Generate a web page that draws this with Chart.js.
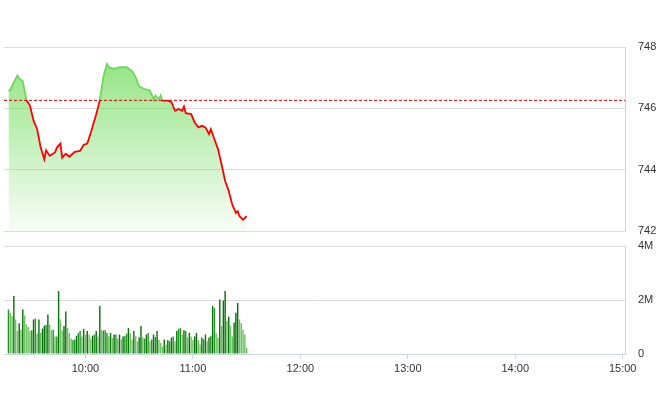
<!DOCTYPE html>
<html>
<head>
<meta charset="utf-8">
<script src="https://cdn.jsdelivr.net/npm/chart.js@4.4.1/dist/chart.umd.min.js"></script>
<style>
  body { margin: 0; background: #fff; }
  #wrap { position: relative; width: 660px; height: 412px; }
  .box { position: absolute; left: 0; width: 660px; }
</style>
</head>
<body>
<div id="wrap">
  <div class="box" style="top:0;height:240px"><canvas id="priceChart"></canvas></div>
  <div class="box" style="top:240px;height:172px"><canvas id="volumeChart"></canvas></div>
</div>
<script>
// intraday price
var priceTimes = ['9:17','9:18','9:20','9:22','9:23','9:25','9:27','9:29','9:31','9:33',
  '9:35','9:37','9:38','9:40','9:43','9:44','9:46','9:47','9:49','9:51',
  '9:54','9:57','9:59','10:01','10:03','10:06','10:08','10:10','10:12','10:13',
  '10:16','10:19','10:23','10:26','10:28','10:30','10:33','10:36','10:38','10:39',
  '10:41','10:42','10:43','10:46','10:48','10:50','10:52','10:54','10:55','10:56',
  '10:59','11:01','11:03','11:05','11:07','11:09','11:10','11:12','11:14','11:16',
  '11:18','11:20','11:22','11:24','11:25','11:26','11:28','11:30'];
var prices = [746.59,746.59,746.85,747.07,746.96,746.89,746.27,746.09,745.60,745.32,
  744.72,744.34,744.63,744.45,744.56,744.72,744.85,744.39,744.52,744.42,
  744.58,744.61,744.81,744.85,745.21,745.81,746.25,747.02,747.45,747.34,
  747.29,747.34,747.34,747.21,747.02,746.71,746.63,746.58,746.30,746.42,
  746.30,746.42,746.25,746.25,746.20,745.92,745.98,745.92,746.06,745.84,
  745.81,745.54,745.38,745.43,745.38,745.16,745.32,744.99,744.67,744.17,
  743.63,743.30,742.86,742.59,742.65,742.48,742.37,742.48];
var refPrice = 746.26;

// per-minute volume in millions, first bar at 9:17
var volumeStart = '9:17';
var volumes = [1.65,1.53,1.41,2.15,1.28,0.85,1.14,0.9,1.65,1.43,
  1.1,1.0,0.85,0.88,1.28,1.31,0.76,1.28,0.78,0.94,
  1.05,1.07,1.46,1.09,0.88,0.9,0.65,0.65,2.33,1.28,
  0.87,1.04,1.57,0.96,0.78,0.57,0.52,0.54,0.68,0.78,
  0.85,0.65,0.93,0.72,0.85,0.72,0.57,0.68,0.72,0.85,
  0.65,1.78,0.88,0.87,0.88,0.78,0.65,0.78,0.59,0.72,
  0.72,0.57,0.72,0.54,0.65,
  0.68,0.76,0.96,0.76,0.54,0.85,0.65,0.47,0.61,1.04,
  0.61,0.57,0.72,0.78,0.47,0.54,0.72,0.63,0.85,0.52,
  0.41,0.27,0.54,0.35,0.52,0.47,0.61,0.65,0.47,0.85,
  0.93,0.96,0.72,0.88,0.85,0.61,0.78,0.65,0.52,0.65,
  0.78,0.52,0.35,0.61,0.54,0.72,0.47,0.61,0.68,1.78,
  1.7,0.78,0.61,2.02,1.04,1.98,2.33,1.23,1.38,1.04,
  0.65,1.17,1.53,1.89,1.28,1.14,0.9,0.72,0.22];

var hourTicks = ['10:00','11:00','12:00','13:00','14:00','15:00'];
var priceTicks = [742, 744, 746, 748];
var volumeTicks = [0, 2, 4];

function toMin(t) {
  var p = t.split(':');
  return +p[0] * 60 + +p[1];
}
function fmtMin(m) {
  var mm = m % 60;
  return Math.floor(m / 60) + ':' + (mm < 10 ? '0' : '') + mm;
}

var xMin = 554.5, xMax = 901.3;
var font = { family: 'Liberation Sans, Arial, sans-serif', size: 11 };
var axisColor = '#ccd6eb';
var gridColor = '#dddddd';
var labelColor = '#333';

var green = '#6fd65f', red = '#ff0000';

// y axes: fixed width, no extra label padding on top/bottom
function fitY(s) {
  s.width = 35;
  s.paddingTop = 0;
  s.paddingBottom = 0;
}

var priceChart = new Chart(document.getElementById('priceChart'), {
  type: 'line',
  data: {
    datasets: [
      {
        data: [{ x: xMin, y: refPrice }, { x: xMax, y: refPrice }],
        borderColor: '#e00000',
        borderWidth: 1,
        borderDash: [3, 2],
        pointRadius: 0,
        fill: false,
        order: 0,
      },
      {
        data: priceTimes.map((t, i) => ({ x: toMin(t), y: prices[i] })),
        borderWidth: 1.8,
        pointRadius: 0,
        tension: 0,
        fill: 'start',
        order: 1,
        borderColor: function (ctx) {
          var chart = ctx.chart, area = chart.chartArea;
          if (!area) return red;
          var y = chart.scales.y.getPixelForValue(refPrice);
          var f = (y - area.top) / (area.bottom - area.top);
          var g = chart.ctx.createLinearGradient(0, area.top, 0, area.bottom);
          g.addColorStop(0, green);
          g.addColorStop(f, green);
          g.addColorStop(f, red);
          g.addColorStop(1, red);
          return g;
        },
        backgroundColor: function (ctx) {
          var chart = ctx.chart, area = chart.chartArea;
          if (!area) return 'rgba(120,220,100,0.4)';
          var g = chart.ctx.createLinearGradient(0, area.top, 0, area.bottom);
          g.addColorStop(0, 'rgba(120,222,100,0.85)');
          g.addColorStop(1, 'rgba(120,222,100,0.05)');
          return g;
        },
      },
    ],
  },
  options: {
    responsive: true,
    maintainAspectRatio: false,
    animation: false,
    layout: { padding: { left: 4, top: 47, bottom: 9, right: 0 } },
    plugins: { legend: { display: false }, tooltip: { enabled: false } },
    scales: {
      x: { type: 'linear', min: xMin, max: xMax, display: false },
      y: {
        position: 'right',
        min: 742,
        max: 748,
        afterBuildTicks: (s) => { s.ticks = priceTicks.map((v) => ({ value: v })); },
        afterFit: fitY,
        ticks: { color: labelColor, font: font, padding: 13 },
        grid: { color: gridColor, drawTicks: false },
        border: { color: axisColor },
      },
    },
  },
});

var startMin = toMin(volumeStart);
var volumeChart = new Chart(document.getElementById('volumeChart'), {
  type: 'bar',
  data: {
    datasets: [
      {
        data: volumes.map((v, i) => ({ x: startMin + i, y: v })),
        barPercentage: 0.8,
        categoryPercentage: 1,
        backgroundColor: function (ctx) {
          var i = ctx.dataIndex;
          var prev = i > 0 ? volumes[i - 1] : volumes[i];
          var d = volumes[i] - prev;
          if (d > 0.1) return '#0a720a';
          if (d < -0.1) return '#6cc260';
          return '#249624';
        },
      },
    ],
  },
  options: {
    responsive: true,
    maintainAspectRatio: false,
    animation: false,
    layout: { padding: { left: 4, top: 6, bottom: 0, right: 0 } },
    plugins: { legend: { display: false }, tooltip: { enabled: false } },
    scales: {
      x: {
        type: 'linear',
        min: xMin,
        max: xMax,
        offset: false,
        afterBuildTicks: (s) => { s.ticks = hourTicks.map((t) => ({ value: toMin(t) })); },
        afterFit: (s) => { s.height = 58; },
        ticks: { color: labelColor, font: font, padding: 3, maxRotation: 0, callback: (v) => fmtMin(v) },
        grid: { offset: false, drawOnChartArea: false, tickLength: 5, color: axisColor },
        border: { color: axisColor },
      },
      y: {
        position: 'right',
        min: 0,
        max: 4,
        afterBuildTicks: (s) => { s.ticks = volumeTicks.map((v) => ({ value: v })); },
        afterFit: fitY,
        ticks: { color: labelColor, font: font, padding: 13, callback: (v) => (v === 0 ? '0' : v + 'M') },
        grid: { color: gridColor, drawTicks: false },
        border: { color: axisColor },
      },
    },
  },
});
</script>
</body>
</html>
